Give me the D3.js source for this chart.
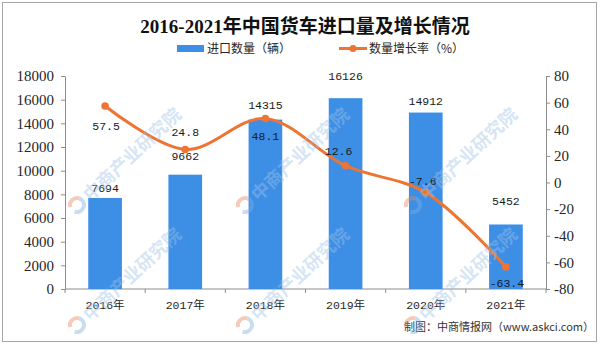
<!DOCTYPE html>
<html>
<head>
<meta charset="utf-8">
<script src="https://cdn.jsdelivr.net/npm/d3@7"></script>
<style>
  html, body { margin: 0; padding: 0; background: #fff; }
  svg { display: block; }
</style>
</head>
<body>
<svg id="chart" width="600" height="344"></svg>
<script>
// Chart data
const years = ["2016年", "2017年", "2018年", "2019年", "2020年", "2021年"];
const importVolume = [7694, 9662, 14315, 16126, 14912, 5452];   // 进口数量（辆）
const growthRate = [57.5, 24.8, 48.1, 12.6, -7.6, -63.4];        // 数量增长率（%）
const leftTicks = [0, 2000, 4000, 6000, 8000, 10000, 12000, 14000, 16000, 18000];
const rightTicks = [-80, -60, -40, -20, 0, 20, 40, 60, 80];

const titleText = "2016-2021年中国货车进口量及增长情况";
const barLegend = "进口数量（辆）";
const lineLegend = "数量增长率（%）";
const creditText = "制图：中商情报网（www.askci.com）";
const watermarkText = "中商产业研究院";

// Label placement tweaks (pixels) so labels clear the line and bars
const barLabelLift = [10, 19, 15, 22, 12, 24];
const rateLabelShift = [[1, 20], [0, -18], [0, 18], [-7, -15], [-3, -12], [1, 16]];

const BLUE = "#3d8fe6";
const ORANGE = "#ee7433";
const TEXT = "#262626";
const AXIS = "#8c8c8c";
const CJK = "'Noto Sans CJK SC'";

const svg = d3.select("#chart");
const plot = { left: 65, right: 546, top: 76, bottom: 289 };

svg.append("rect").attr("width", 600).attr("height", 344).attr("fill", "#fff");
svg.append("rect")
  .attr("x", 2.5).attr("y", 2.5).attr("width", 594).attr("height", 339)
  .attr("fill", "none").attr("stroke", "#a6a6a6");

// Scales
const x = d3.scaleBand().domain(years).range([plot.left, plot.right]).paddingInner(0.58).paddingOuter(0.29);
const yL = d3.scaleLinear().domain([0, 18000]).range([plot.bottom, plot.top]);
const yR = d3.scaleLinear().domain([-80, 80]).range([plot.bottom, plot.top]);
const cx = d => x(d) + x.bandwidth() / 2;

// Title
svg.append("text")
  .attr("x", 305).attr("y", 33)
  .attr("text-anchor", "middle")
  .attr("font-family", "'Liberation Serif', " + CJK)
  .attr("font-weight", "bold").attr("font-size", 19)
  .attr("fill", "#111")
  .text(titleText);

// Legend
const lg = svg.append("g").attr("font-family", CJK).attr("font-size", 12).attr("fill", TEXT);
lg.append("rect").attr("x", 177).attr("y", 45).attr("width", 27).attr("height", 7).attr("fill", BLUE);
lg.append("text").attr("x", 207).attr("y", 53).text(barLegend);
lg.append("line").attr("x1", 339).attr("x2", 367).attr("y1", 48.5).attr("y2", 48.5)
  .attr("stroke", ORANGE).attr("stroke-width", 3);
lg.append("circle").attr("cx", 353).attr("cy", 48.5).attr("r", 3.5).attr("fill", ORANGE);
lg.append("text").attr("x", 369).attr("y", 53).text(lineLegend);

// Axes
const axisStyle = g => {
  g.select(".domain").attr("stroke", AXIS);
  g.selectAll(".tick line").attr("stroke", AXIS);
  g.selectAll(".tick text").attr("fill", TEXT);
};

svg.append("g")
  .attr("transform", `translate(${plot.left},0)`)
  .call(d3.axisLeft(yL).tickValues(leftTicks).tickSize(4).tickSizeOuter(0).tickPadding(7).tickFormat(d3.format("d")))
  .attr("font-family", "'Liberation Serif'").attr("font-size", 15)
  .call(axisStyle);

svg.append("g")
  .attr("transform", `translate(${plot.right},0)`)
  .call(d3.axisRight(yR).tickValues(rightTicks).tickSize(4).tickSizeOuter(0).tickPadding(4).tickFormat(d => String(d)))
  .attr("font-family", "'Liberation Serif'").attr("font-size", 15)
  .call(axisStyle);

// Category axis: ticks sit between the bands
const xAxis = svg.append("g").attr("transform", `translate(0,${plot.bottom})`);
xAxis.append("line").attr("x1", plot.left).attr("x2", plot.right).attr("stroke", AXIS);
const bounds = d3.range(years.length + 1).map(i => plot.left + i * x.step());
xAxis.selectAll("line.tk").data(bounds).join("line").attr("class", "tk")
  .attr("x1", d => d).attr("x2", d => d).attr("y1", 0).attr("y2", 4).attr("stroke", AXIS);
xAxis.selectAll("text").data(years).join("text")
  .attr("x", d => cx(d)).attr("y", 20)
  .attr("text-anchor", "middle")
  .attr("font-family", "'Liberation Mono', " + CJK).attr("font-size", 11.5)
  .attr("fill", TEXT)
  .text(d => d);

// Bars
svg.append("g").selectAll("rect").data(years).join("rect")
  .attr("x", d => x(d)).attr("width", x.bandwidth())
  .attr("y", (d, i) => yL(importVolume[i]))
  .attr("height", (d, i) => plot.bottom - yL(importVolume[i]))
  .attr("fill", BLUE);

// Growth line (smoothed) with markers
const pts = years.map((d, i) => [cx(d), yR(growthRate[i])]);
svg.append("path")
  .attr("d", d3.line().curve(d3.curveCatmullRom.alpha(0.5))(pts))
  .attr("fill", "none").attr("stroke", ORANGE).attr("stroke-width", 3)
  .attr("stroke-linejoin", "round");
svg.append("g").selectAll("circle").data(pts).join("circle")
  .attr("cx", d => d[0]).attr("cy", d => d[1]).attr("r", 3.8).attr("fill", ORANGE);

// Value labels
const labelFont = "'Liberation Mono'";
svg.append("g").selectAll("text").data(years).join("text")
  .attr("x", d => cx(d))
  .attr("y", (d, i) => yL(importVolume[i]) - barLabelLift[i])
  .attr("dy", "0.35em")
  .attr("text-anchor", "middle")
  .attr("font-family", labelFont).attr("font-size", 11.5)
  .attr("fill", "#1a1a1a")
  .text((d, i) => importVolume[i]);

svg.append("g").selectAll("text").data(years).join("text")
  .attr("x", (d, i) => cx(d) + rateLabelShift[i][0])
  .attr("y", (d, i) => yR(growthRate[i]) + rateLabelShift[i][1])
  .attr("dy", "0.35em")
  .attr("text-anchor", "middle")
  .attr("font-family", labelFont).attr("font-size", 11.5)
  .attr("fill", "#1a1a1a")
  .text((d, i) => growthRate[i].toFixed(1));

// Credit line
svg.append("text")
  .attr("x", 594).attr("y", 331)
  .attr("text-anchor", "end")
  .attr("font-family", CJK).attr("font-size", 11)
  .attr("fill", "#333")
  .text(creditText);

// Faint diagonal brand watermark, tiled where it fits inside the frame
const wmCols = [77, 245, 413];
const wmRows = [205, 325];
const wm = svg.append("g").attr("pointer-events", "none");
wmRows.forEach(ry => wmCols.forEach(rx => {
  const g = wm.append("g").attr("transform", `translate(${rx},${ry}) rotate(-43)`).attr("opacity", 0.42);
  const arc = d3.arc().innerRadius(5).outerRadius(9);
  g.append("path").attr("d", arc({ startAngle: Math.PI * 0.15, endAngle: Math.PI * 0.85 }))
    .attr("fill", "#e8875a").attr("transform", "rotate(-90)");
  g.append("path").attr("d", arc({ startAngle: Math.PI * 0.85, endAngle: Math.PI * 1.85 }))
    .attr("fill", "#7fb0e0").attr("transform", "rotate(-90)");
  g.append("text").attr("x", 12).attr("y", 7)
    .attr("font-family", CJK).attr("font-weight", "bold").attr("font-size", 18)
    .attr("fill", "#9fc2e6")
    .text(watermarkText);
}));
</script>
</body>
</html>
